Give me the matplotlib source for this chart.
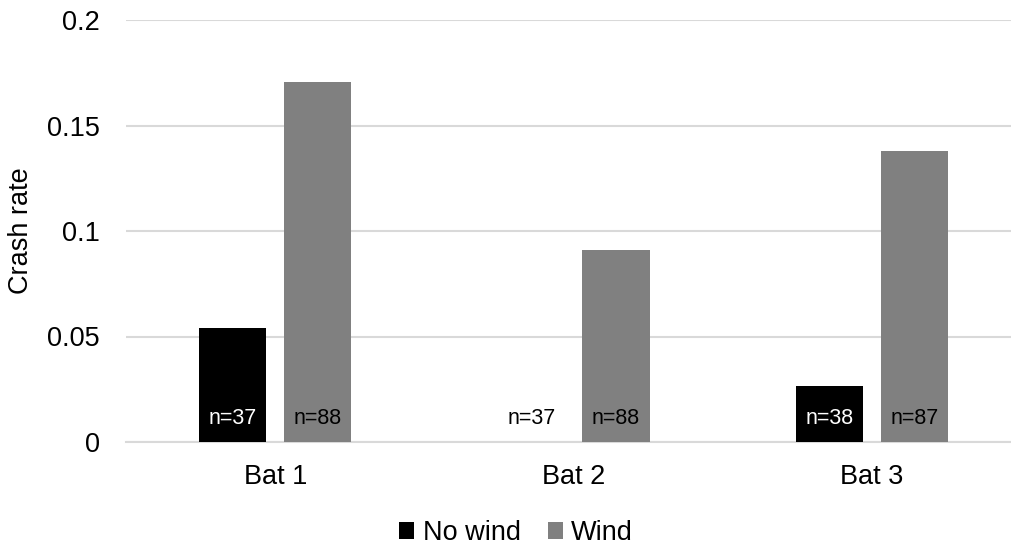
import matplotlib
matplotlib.use("Agg")
import matplotlib.pyplot as plt
import numpy as np

plt.rcParams['font.family'] = ['Liberation Sans', 'DejaVu Sans']

bats = ["Bat 1", "Bat 2", "Bat 3"]
no_wind_rate = [2 / 37, 0.0, 1 / 38]
wind_rate = [15 / 88, 8 / 88, 12 / 87]
no_wind_n = [37, 37, 38]
wind_n = [88, 88, 87]
y_ticks = [0, 0.05, 0.1, 0.15, 0.2]
y_tick_labels = ["0", "0.05", "0.1", "0.15", "0.2"]

fig = plt.figure(figsize=(10.11, 5.44), dpi=100)
ax = fig.add_axes([126 / 1011, 1 - 442 / 544, 1 - 126 / 1011, (442 - 20) / 544])

x = np.arange(len(bats))
w = 0.225
off = 0.142
b1 = ax.bar(x - off, no_wind_rate, width=w, color="#000000", label="No wind", zorder=3)
b2 = ax.bar(x + off, wind_rate, width=w, color="#808080", label="Wind", zorder=3)

# sample sizes written inside the bars, near the base
for xi, v, n in zip(x - off, no_wind_rate, no_wind_n):
    ax.annotate(f"n={n}", (xi, 0), xytext=(0, 17), textcoords="offset points",
                ha="center", va="center", fontsize=15.5,
                color="white" if v > 0 else "black", zorder=4)
for xi, n in zip(x + off, wind_n):
    ax.annotate(f"n={n}", (xi, 0), xytext=(0, 17), textcoords="offset points",
                ha="center", va="center", fontsize=15.5, color="black", zorder=4)

ax.set_xlim(-0.5, 2.466)
ax.set_ylim(0, 0.2)
ax.set_yticks(y_ticks)
ax.set_yticklabels(y_tick_labels)
ax.set_xticks(x)
ax.set_xticklabels(bats)
ax.tick_params(axis="both", length=0, labelsize=19.5, colors="#000000")
ax.tick_params(axis="y", pad=19)
ax.tick_params(axis="x", pad=16)
ax.yaxis.grid(True, color="#d9d9d9", linewidth=1.5, zorder=0)
ax.set_axisbelow(True)
for side in ["top", "right", "left"]:
    ax.spines[side].set_visible(False)
ax.spines["bottom"].set_color("#d9d9d9")
ax.spines["bottom"].set_linewidth(1.5)
ax.spines["bottom"].set_zorder(2)

ax.set_ylabel("Crash rate", fontsize=19.5)
ax.yaxis.set_label_coords(-(126 - 34) / 885, 0.5)

fig.legend(handles=[b1, b2], loc="center", bbox_to_anchor=(516 / 1011, 1 - 533 / 544),
           ncol=2, frameon=False, fontsize=19.5, handlelength=0.55, handleheight=0.55,
           handletextpad=0.3, columnspacing=1.0)

fig.savefig("out.png", dpi=100)
